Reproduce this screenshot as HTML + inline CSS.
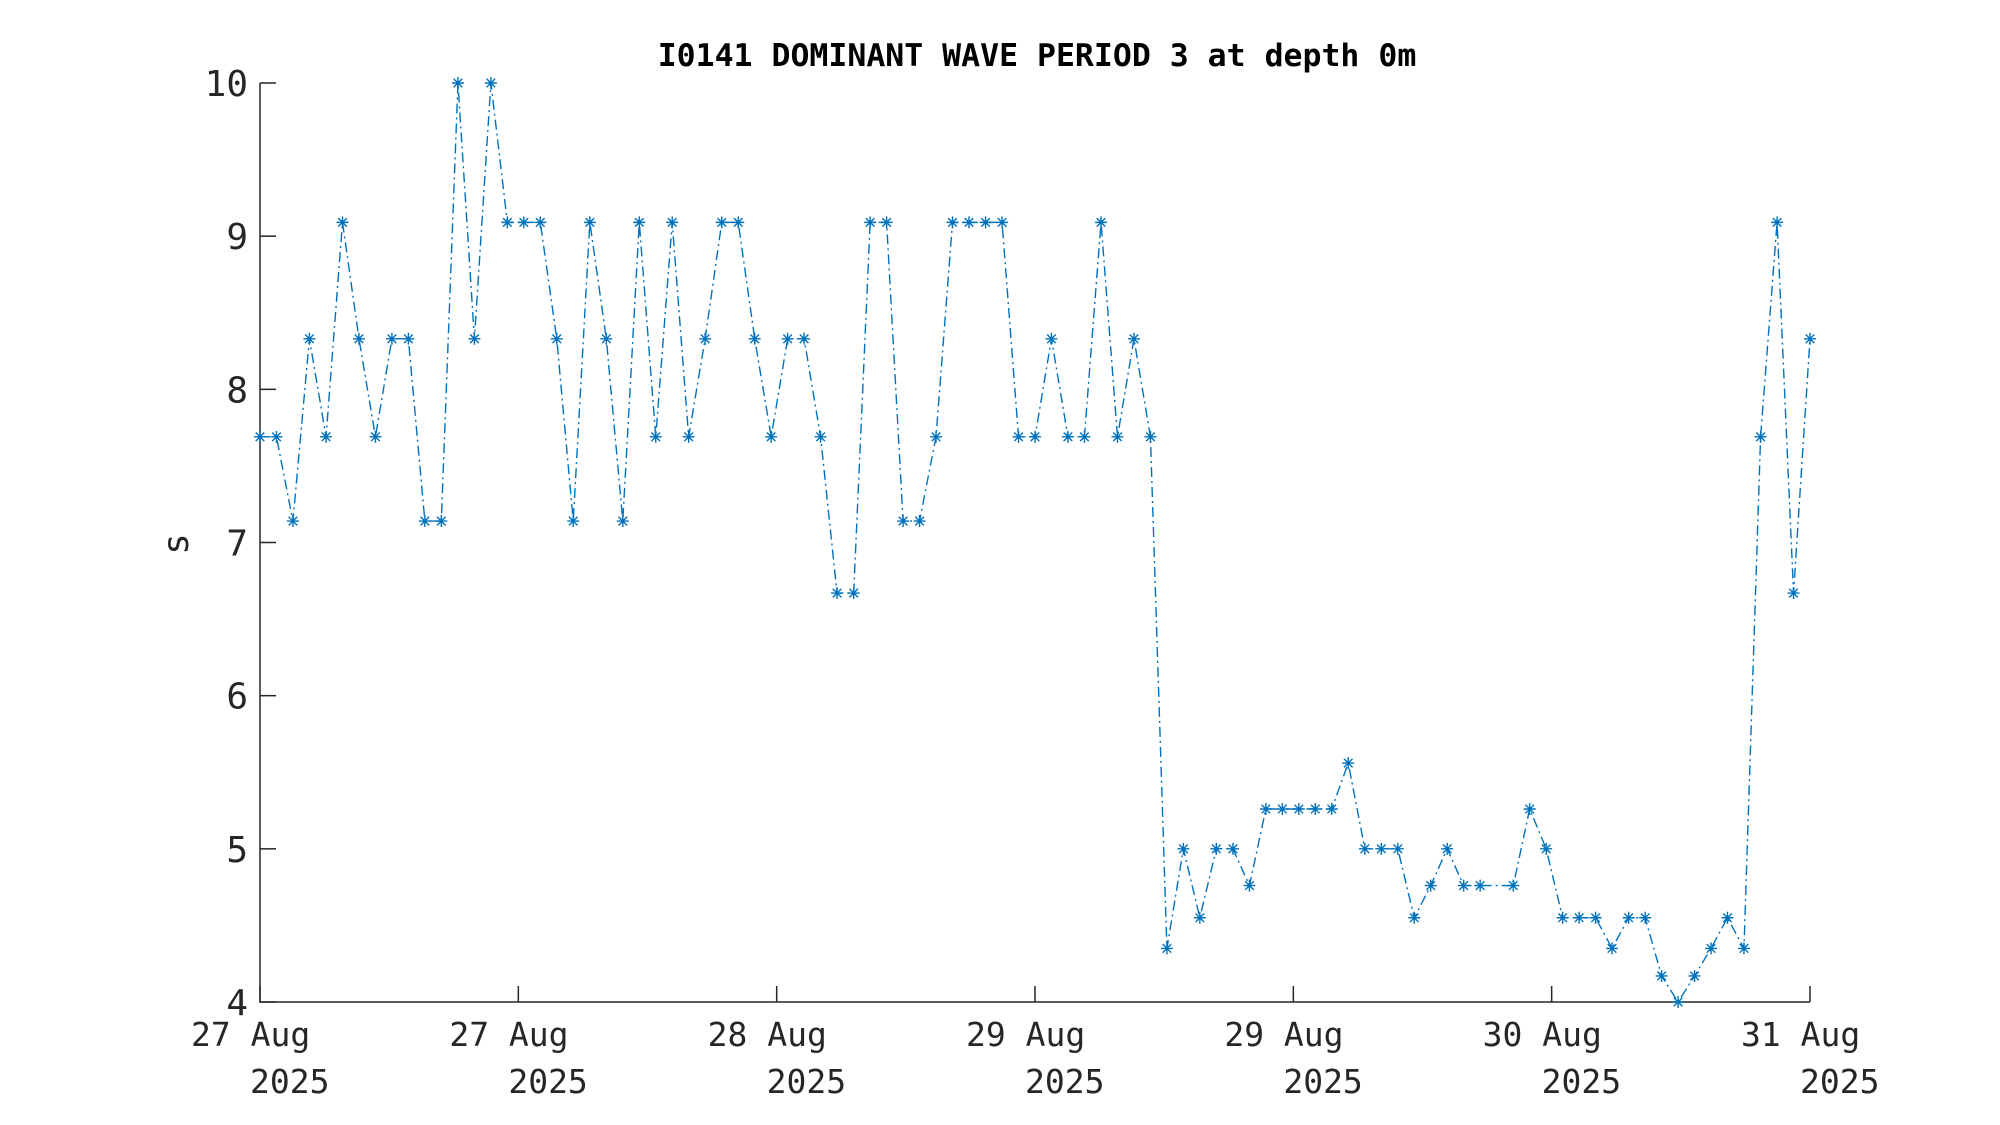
<!DOCTYPE html>
<html><head><meta charset="utf-8"><style>
html,body{margin:0;padding:0;background:#fff;}
svg{display:block;}
</style></head><body>
<svg id="chart" width="2000" height="1125" viewBox="0 0 2000 1125" xmlns="http://www.w3.org/2000/svg">
<rect width="2000" height="1125" fill="#fff"/>
<text x="1037" y="66" text-anchor="middle" font-family="DejaVu Sans Mono, Liberation Mono, monospace" font-weight="bold" font-size="31.5" fill="#000">I0141 DOMINANT WAVE PERIOD 3 at depth 0m</text>
<text transform="translate(188,544) rotate(-90)" text-anchor="middle" font-family="DejaVu Sans Mono, monospace" font-size="36" fill="#262626">s</text>
<g id="axes"></g>
<g id="series"></g>
</svg>
<script>
const hours = [0,1.02,2.04,3.06,4.09,5.11,6.13,7.15,8.17,9.19,10.21,11.23,12.26,13.28,14.30,15.32,16.34,17.36,18.38,19.40,20.43,21.45,22.47,23.49,24.51,25.53,26.55,27.57,28.60,29.62,30.64,31.66,32.68,33.70,34.72,35.74,36.77,37.79,38.81,39.83,40.85,41.87,42.89,43.91,44.94,45.96,46.98,48.00,49.02,50.04,51.06,52.09,53.11,54.13,55.15,56.17,57.19,58.21,59.23,60.26,61.28,62.30,63.32,64.34,65.36,66.38,67.40,68.43,69.45,70.47,71.49,72.51,73.53,74.55,75.57,77.62,78.64,79.66,80.68,81.70,82.72,83.74,84.77,85.79,86.81,87.83,88.85,89.87,90.89,91.91,92.94,93.96,94.98,96.00];
const periods = [7.69,7.69,7.14,8.33,7.69,9.09,8.33,7.69,8.33,8.33,7.14,7.14,10,8.33,10,9.09,9.09,9.09,8.33,7.14,9.09,8.33,7.14,9.09,7.69,9.09,7.69,8.33,9.09,9.09,8.33,7.69,8.33,8.33,7.69,6.67,6.67,9.09,9.09,7.14,7.14,7.69,9.09,9.09,9.09,9.09,7.69,7.69,8.33,7.69,7.69,9.09,7.69,8.33,7.69,4.35,5,4.55,5,5,4.76,5.26,5.26,5.26,5.26,5.26,5.56,5,5,5,4.55,4.76,5,4.76,4.76,4.76,5.26,5,4.55,4.55,4.55,4.35,4.55,4.55,4.17,4,4.17,4.35,4.55,4.35,7.69,9.09,6.67,8.33];
const yTicks = [4,5,6,7,8,9,10];
const xTickHours = [0,16,32,48,64,80,96];
const xTickLabels = ["27 Aug","27 Aug","28 Aug","29 Aug","29 Aug","30 Aug","31 Aug"];
const xTickYears = ["2025","2025","2025","2025","2025","2025","2025"];

const NS="http://www.w3.org/2000/svg";
const X0=260,X1=1810,Y0=1002,Y1=83;
const xs=h=>X0+(h-0)/(96-0)*(X1-X0);
const ys=v=>Y0-(v-4)/(10-4)*(Y0-Y1);
function mk(tag,attrs,parent){const e=document.createElementNS(NS,tag);for(const k in attrs)e.setAttribute(k,attrs[k]);parent.appendChild(e);return e;}
const axes=document.getElementById('axes');
const series=document.getElementById('series');
const ax=mk('path',{d:`M${X0},${Y1}V${Y0}H${X1}`,fill:'none',stroke:'#262626','stroke-width':1.5},axes);


yTicks.forEach(v=>{
  const y=ys(v);
  const t=mk('line',{x1:X0,x2:X0+16,y1:y,y2:y,stroke:'#262626','stroke-width':1.5},axes);
  
  
  const l=mk('text',{x:248,y:y+13,'text-anchor':'end','font-family':'DejaVu Sans Mono, monospace','font-size':36,fill:'#262626'},axes);
  l.textContent=String(v);
  
  
});
xTickHours.forEach((h,i)=>{
  const x=xs(h);
  const t=mk('line',{x1:x,x2:x,y1:Y0,y2:Y0-16,stroke:'#262626','stroke-width':1.5},axes);
  
  
  const l=mk('text',{x:x-69,y:1046,'font-family':'DejaVu Sans Mono, monospace','font-size':33,fill:'#262626'},axes);
  l.textContent=xTickLabels[i];
  
  
  const yl=mk('text',{x:x-10,y:1093,'font-family':'DejaVu Sans Mono, monospace','font-size':33,fill:'#262626'},axes);
  yl.textContent=xTickYears[i];
  
  
});
const pts=hours.map((h,i)=>[xs(h),ys(periods[i])]);
const line=mk('polyline',{points:pts.map(p=>p.join(',')).join(' '),fill:'none',stroke:'#0072BD','stroke-width':1.4,'stroke-dasharray':'10 4 2 4'},series);


pts.forEach(([x,y])=>{
  const r=6,d=4.3;
  const m=mk('path',{d:`M${x-r},${y}H${x+r}M${x},${y-r}V${y+r}M${x-d},${y-d}L${x+d},${y+d}M${x-d},${y+d}L${x+d},${y-d}`,stroke:'#0072BD','stroke-width':1.4,fill:'none'},series);
  
  
});
</script>
</body></html>
